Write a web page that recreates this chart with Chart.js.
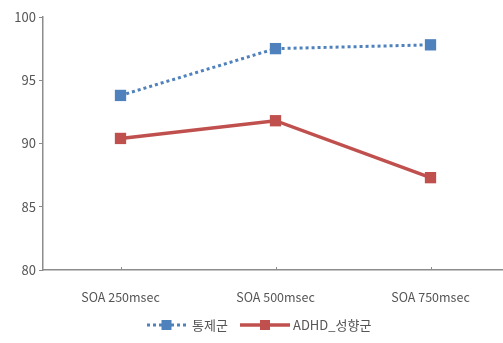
<!DOCTYPE html>
<html>
<head>
<meta charset="utf-8">
<script src="https://cdn.jsdelivr.net/npm/chart.js@4/dist/chart.umd.min.js"></script>
<style>
  html, body { margin: 0; padding: 0; background: #ffffff; overflow: hidden; }
  #wrap { width: 503px; height: 343px; position: relative; overflow: hidden; }
  #chart { position: absolute; left: 0; top: 0; }
</style>
</head>
<body>
<div id="wrap"><canvas id="chart" width="516" height="343"></canvas></div>
<script>
// Accuracy (%) by SOA condition for the two groups
const categories = ['SOA 250msec', 'SOA 500msec', 'SOA 750msec'];
const controlGroup = [93.8, 97.5, 97.8];
const adhdGroup = [90.4, 91.8, 87.3];
const yTicks = [80, 85, 90, 95, 100];
const seriesNames = ['통제군', 'ADHD_성향군'];

const BLUE = '#4F81BD';
const RED = '#C0504D';
const AXIS = '#8c8c8c';
const TEXT = '#555555';
const FONT = '"Noto Sans CJK KR", "Noto Sans", sans-serif';

// Short tick marks on the category axis, pointing up into the plot
const innerCategoryTicks = {
  id: 'innerCategoryTicks',
  afterDraw(chart) {
    const x = chart.scales.x;
    const ctx = chart.ctx;
    ctx.save();
    ctx.strokeStyle = AXIS;
    ctx.lineWidth = 1;
    x.ticks.forEach((t, i) => {
      const px = Math.round(x.getPixelForTick(i)) + 0.5;
      ctx.beginPath();
      ctx.moveTo(px, x.top);
      ctx.lineTo(px, x.top - 3);
      ctx.stroke();
    });
    ctx.restore();
  }
};

// Legend drawn under the plot: sample line with a square marker, then the name
const bottomLegend = {
  id: 'bottomLegend',
  afterDraw(chart) {
    const ctx = chart.ctx;
    const y = 325;
    const entries = [
      { ds: chart.data.datasets[0], x0: 147, x1: 186, tx: 192 },
      { ds: chart.data.datasets[1], x0: 240, x1: 290, tx: 293 }
    ];
    ctx.save();
    entries.forEach(e => {
      ctx.strokeStyle = e.ds.borderColor;
      ctx.lineWidth = e.ds.borderWidth;
      ctx.lineCap = e.ds.borderCapStyle || 'butt';
      ctx.setLineDash(e.ds.borderDash || []);
      ctx.beginPath();
      ctx.moveTo(e.x0, y);
      ctx.lineTo(e.x1, y);
      ctx.stroke();
      ctx.setLineDash([]);
      const cx = (e.x0 + e.x1) / 2;
      ctx.fillStyle = e.ds.pointBackgroundColor;
      ctx.fillRect(cx - 5, y - 5, 10, 10);
      ctx.fillStyle = TEXT;
      ctx.font = '13px ' + FONT;
      ctx.textBaseline = 'middle';
      ctx.textAlign = 'left';
      ctx.fillText(e.ds.label, e.tx, y);
    });
    ctx.restore();
  }
};

new Chart(document.getElementById('chart'), {
  type: 'line',
  data: {
    labels: categories,
    datasets: [
      {
        label: seriesNames[0],
        data: controlGroup,
        borderColor: BLUE,
        borderWidth: 3,
        borderDash: [3, 3],
        borderCapStyle: 'butt',
        pointStyle: 'rect',
        pointRadius: 8,
        pointBackgroundColor: BLUE,
        pointBorderColor: BLUE,
        pointBorderWidth: 0,
        tension: 0,
        fill: false
      },
      {
        label: seriesNames[1],
        data: adhdGroup,
        borderColor: RED,
        borderWidth: 3.5,
        pointStyle: 'rect',
        pointRadius: 8,
        pointBackgroundColor: RED,
        pointBorderColor: RED,
        pointBorderWidth: 0,
        tension: 0,
        fill: false
      }
    ]
  },
  options: {
    responsive: false,
    animation: false,
    devicePixelRatio: 1,
    layout: { padding: { top: 17, right: 0, bottom: 0, left: 0 } },
    plugins: {
      legend: { display: false },
      tooltip: { enabled: false }
    },
    scales: {
      x: {
        offset: true,
        afterFit(axis) { axis.height = 73; },
        grid: {
          display: true,
          drawOnChartArea: false,
          drawTicks: false,
          color: AXIS
        },
        border: { display: true, color: AXIS, width: 1.5 },
        ticks: {
          color: TEXT,
          font: { family: FONT, size: 12.5 },
          padding: 20,
          maxRotation: 0
        }
      },
      y: {
        min: 80,
        max: 100,
        afterBuildTicks(axis) {
          axis.ticks = yTicks.map(v => ({ value: v }));
        },
        afterFit(axis) { axis.width = 43; },
        grid: {
          display: true,
          drawOnChartArea: false,
          drawTicks: true,
          tickLength: 4,
          color: AXIS
        },
        border: { display: true, color: AXIS, width: 1.5 },
        ticks: {
          color: TEXT,
          font: { family: FONT, size: 13 },
          padding: 3
        }
      }
    }
  },
  plugins: [innerCategoryTicks, bottomLegend]
});
</script>
</body>
</html>
